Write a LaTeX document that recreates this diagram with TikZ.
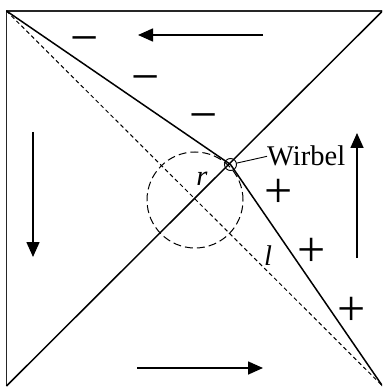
\documentclass[tikz,border=0pt]{standalone}
\usepackage{fontspec}
\setmainfont{Liberation Serif}
\usetikzlibrary{arrows.meta}
\begin{document}
\begin{tikzpicture}[x=1pt,y=-1pt,
  frame/.style={line width=1.1pt, black!85},
  solidline/.style={line width=1.5pt},
  dashline/.style={line width=1pt, dash pattern=on 4pt off 3pt},
  circdash/.style={line width=1pt, dash pattern=on 8pt off 4pt},
  flow/.style={line width=1.6pt, -{Triangle[length=15pt,width=13pt]}},
  lbl/.style={font=\fontsize{28.5}{30}\selectfont, inner sep=0pt},
  sign/.style={font=\fontsize{50}{52}\selectfont, inner sep=0pt, anchor=base},
]
\useasboundingbox (0,0) rectangle (382,387);
\clip (0,0) rectangle (382,387);
\coordinate (TL) at (6.5,11);
\coordinate (TR) at (382.5,11);
\coordinate (BL) at (6.5,386);
\coordinate (BR) at (382.5,386);
\draw[frame] (BL) -- (TL) -- (TR);
\node[circle, draw, circdash, minimum size=96pt, inner sep=0pt] (R) at (195,200) {};
\node[circle, draw, minimum size=12pt, inner sep=0pt, line width=0.9pt] (V) at (230.5,164.5) {};
\draw[solidline] (BL) -- (TR);
\draw[solidline] (TL) -- (V.center) -- (BR);
\draw[dashline] (TL) -- (BR);
\node[lbl, anchor=base] (rl) at (202,185) {\textit{r}};
\node[lbl, anchor=base] (ll) at (268,265) {\textit{l}};
\node[lbl, anchor=base west] (W) at (267,166) {Wirbel};
\draw[line width=0.9pt] (V) -- (W.west);
\node[sign] (m1) at (85,55) {−};
\node[sign] (m2) at (146,94) {−};
\node[sign] (m3) at (203.5,132) {−};
\node[sign] (p1) at (278.5,207) {+};
\node[sign] (p2) at (311.5,266) {+};
\node[sign] (p3) at (352,325) {+};
\coordinate (a1s) at (263,35);  \coordinate (a1e) at (138,35);
\coordinate (a2s) at (33,132);  \coordinate (a2e) at (33,257);
\coordinate (a3s) at (137,368); \coordinate (a3e) at (263,368);
\coordinate (a4s) at (357,258); \coordinate (a4e) at (357,133);
\draw[flow] (a1s) -- (a1e);
\draw[flow] (a2s) -- (a2e);
\draw[flow] (a3s) -- (a3e);
\draw[flow] (a4s) -- (a4e);
\end{tikzpicture}
\end{document}
